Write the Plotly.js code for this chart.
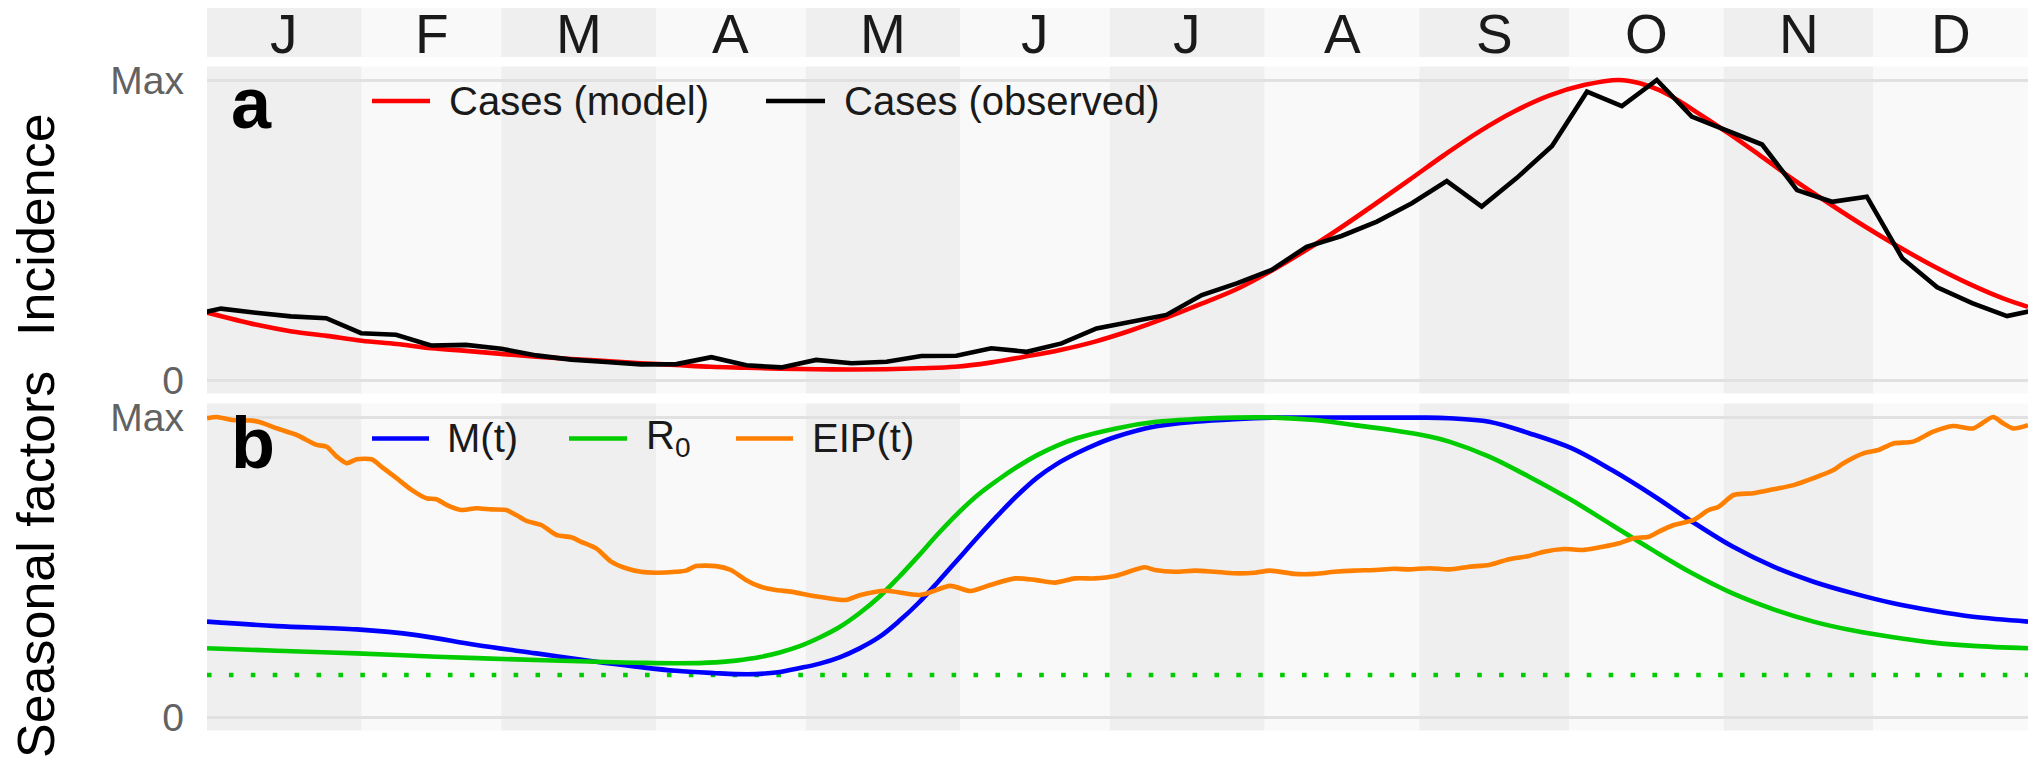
<!DOCTYPE html>
<html>
<head>
<meta charset="utf-8">
<script src="https://cdn.plot.ly/plotly-3.0.1.min.js"></script>
<style>
html,body{margin:0;padding:0;background:#ffffff;}
#chart{width:2043px;height:759px;}
</style>
</head>
<body>
<div id="chart"></div>
<script>
// ---------------- DATA ----------------
const monthLabels = ['J','F','M','A','M','J','J','A','S','O','N','D'];
const monthStarts = [0,31,59,90,120,151,181,212,243,273,304,334,365];
const yTickVals = [0, 1];
const yTickText = ['0', 'Max'];

// Panel a: observed weekly cases (normalised), day of year
const obsDays = [-4.2,2.8,9.8,16.8,23.9,30.9,37.9,44.9,51.9,59.0,66.0,73.0,80.0,87.0,94.1,101.1,108.1,115.1,122.1,129.2,136.2,143.2,150.2,157.2,164.3,171.3,178.3,185.3,192.3,199.4,206.4,213.4,220.4,227.4,234.5,241.5,248.5,255.5,262.5,269.6,276.6,283.6,290.6,297.6,304.7,311.7,318.7,325.7,332.7,339.8,346.8,353.8,360.8,367.8];
const obsCases = [0.213,0.238,0.224,0.212,0.206,0.156,0.151,0.115,0.117,0.104,0.082,0.068,0.060,0.052,0.053,0.076,0.049,0.042,0.067,0.056,0.061,0.080,0.081,0.106,0.094,0.122,0.172,0.194,0.217,0.283,0.322,0.367,0.444,0.480,0.528,0.589,0.663,0.578,0.673,0.780,0.961,0.913,1.000,0.878,0.833,0.785,0.633,0.594,0.611,0.406,0.309,0.256,0.213,0.238];

// Panel a: model cases
const modelDays = [0,10,17,24,31,38,45,52,59,66,73,80,87,94,101,108,115,122,129,136,143,150,157,164,171,178,185,192,199,206,213,220,227,234,241,248,255,262,269,276,283,287,291,295,299,305,311,318,325,332,339,346,353,360,365];
const modelCases = [0.225,0.184,0.162,0.147,0.131,0.120,0.106,0.097,0.087,0.078,0.070,0.063,0.056,0.050,0.044,0.041,0.038,0.036,0.035,0.036,0.039,0.044,0.058,0.078,0.100,0.128,0.164,0.206,0.252,0.300,0.361,0.430,0.505,0.585,0.667,0.750,0.828,0.895,0.948,0.983,1.000,0.990,0.967,0.931,0.888,0.822,0.752,0.668,0.590,0.515,0.445,0.380,0.322,0.272,0.244];

// Panel b: M(t)
const mDays = [0,14,30,42,54,66,78,86,94,102,106,110,114.5,118.8,122.8,126.8,130.7,134.7,138.6,142.6,146.5,150.5,154.5,158.5,162.5,166.4,170.3,174.3,178.2,182.2,190,198,206,214,230,243,249,257,265,273.5,281.6,289.7,297.7,305.8,314,322,330,338,346,354,365];
const mValues = [0.318,0.303,0.292,0.273,0.240,0.212,0.184,0.168,0.154,0.146,0.143,0.143,0.149,0.163,0.178,0.199,0.228,0.266,0.318,0.380,0.450,0.525,0.600,0.672,0.740,0.798,0.843,0.879,0.909,0.934,0.968,0.984,0.993,0.998,0.998,0.998,0.996,0.984,0.946,0.896,0.823,0.740,0.651,0.568,0.501,0.451,0.412,0.379,0.354,0.334,0.318];

// Panel b: R0
const r0Days = [0,14,30,46,62,78,86,94,102,106,110.9,114.8,118.8,122.8,126.8,130.7,134.7,138.6,142.6,146.5,150.5,154.5,158.5,162.5,166.4,170.3,174.3,182.2,190.2,198,206,214,222,230,238,245,249,257,265,273.5,281.6,289.7,297.7,305.8,314,322,330,338,346,354,365];
const r0Values = [0.229,0.221,0.212,0.201,0.192,0.184,0.181,0.179,0.182,0.188,0.200,0.215,0.236,0.265,0.300,0.345,0.400,0.465,0.537,0.610,0.679,0.740,0.790,0.835,0.873,0.904,0.929,0.962,0.984,0.993,0.998,0.998,0.990,0.973,0.955,0.935,0.918,0.868,0.801,0.723,0.640,0.557,0.479,0.412,0.359,0.318,0.288,0.266,0.248,0.237,0.229];
const r0Threshold = 0.14;

// Panel b: EIP(t)
const eipDays = [0,2,5,9,11,14,18,22,24,26,28,30,33,35,38,41,44,46,48,51,54,57,60,62,64,67,70,73,75,78,81,84,87,90,94,96,98,102,105,108,111,114,117,121,123,128,131,136,143,149,153,157,162,166,170,174,178,182,188,190,194,198,202,206,210,213,218,222,226,230,234,238,241,245,249,253,257,261,265,268,272,276,280,283,286,289,291,294,298,301,303,306,310,314,318,322,326,328,332,335,338,342,346,350,354,358,360,362,365];
const eipValues = [0.996,1.000,0.990,0.988,0.981,0.962,0.940,0.907,0.901,0.868,0.846,0.859,0.859,0.834,0.796,0.757,0.729,0.726,0.707,0.690,0.696,0.692,0.690,0.673,0.654,0.640,0.607,0.599,0.584,0.562,0.518,0.496,0.484,0.481,0.484,0.488,0.503,0.503,0.490,0.457,0.434,0.423,0.418,0.405,0.400,0.390,0.407,0.421,0.407,0.437,0.420,0.440,0.462,0.457,0.448,0.462,0.462,0.470,0.499,0.490,0.484,0.488,0.484,0.479,0.481,0.488,0.477,0.477,0.484,0.488,0.490,0.494,0.492,0.496,0.492,0.501,0.507,0.526,0.537,0.551,0.560,0.557,0.568,0.579,0.596,0.601,0.618,0.640,0.657,0.690,0.701,0.740,0.746,0.759,0.773,0.796,0.823,0.846,0.879,0.890,0.912,0.918,0.951,0.970,0.962,1.000,0.979,0.962,0.973];

// ---------------- LAYOUT GEOMETRY (pixels) ----------------
const W = 2043, H = 759, ML = 207, MR = 15;
const PW = W - ML - MR;
const fx = px => (px - ML) / PW;
const fy = py => (H - py) / H;
const FONT = 'Liberation Sans, Arial, Helvetica, sans-serif';
const bandDark = '#efefef', bandLight = '#f9f9f9';

const panelA = {top: 66.5, bottom: 393.5};
const panelB = {top: 403.5, bottom: 730.5};
const header = {top: 8, bottom: 57};

// ---------------- TRACES ----------------
const lw = 4.6;
const traces = [
  {x: modelDays, y: modelCases, type: 'scatter', mode: 'lines', name: 'Cases (model)',
   line: {color: '#ff0000', width: lw, shape: 'spline', smoothing: 1}, xaxis: 'x', yaxis: 'y', showlegend: false, hoverinfo: 'skip'},
  {x: obsDays, y: obsCases, type: 'scatter', mode: 'lines', name: 'Cases (observed)',
   line: {color: '#000000', width: lw}, xaxis: 'x', yaxis: 'y', showlegend: false, hoverinfo: 'skip'},
  {x: [monthStarts[0], monthStarts[12]], y: [r0Threshold, r0Threshold], type: 'scatter', mode: 'lines', name: 'threshold',
   line: {color: '#00cc00', width: 4.6, dash: '4.6px,17.3px'}, xaxis: 'x', yaxis: 'y2', showlegend: false, hoverinfo: 'skip'},
  {x: mDays, y: mValues, type: 'scatter', mode: 'lines', name: 'M(t)',
   line: {color: '#0000ff', width: lw, shape: 'spline', smoothing: 1}, xaxis: 'x', yaxis: 'y2', showlegend: false, hoverinfo: 'skip'},
  {x: r0Days, y: r0Values, type: 'scatter', mode: 'lines', name: 'R0',
   line: {color: '#00cc00', width: lw, shape: 'spline', smoothing: 1}, xaxis: 'x', yaxis: 'y2', showlegend: false, hoverinfo: 'skip'},
  {x: eipDays, y: eipValues, type: 'scatter', mode: 'lines', name: 'EIP(t)',
   line: {color: '#ff7f00', width: lw, shape: 'spline', smoothing: 0.7}, xaxis: 'x', yaxis: 'y2', showlegend: false, hoverinfo: 'skip'}
];

// ---------------- SHAPES ----------------
const shapes = [];
for (let i = 0; i < monthLabels.length; i++) {
  const fill = (i % 2 === 0) ? bandDark : bandLight;
  const x0 = monthStarts[i], x1 = monthStarts[i + 1];
  shapes.push({type: 'rect', xref: 'x', yref: 'paper', x0: x0, x1: x1, y0: fy(header.bottom), y1: fy(header.top),
               fillcolor: fill, line: {width: 0}, layer: 'below'});
  shapes.push({type: 'rect', xref: 'x', yref: 'y domain', x0: x0, x1: x1, y0: 0, y1: 1,
               fillcolor: fill, line: {width: 0}, layer: 'below'});
  shapes.push({type: 'rect', xref: 'x', yref: 'y2 domain', x0: x0, x1: x1, y0: 0, y1: 1,
               fillcolor: fill, line: {width: 0}, layer: 'below'});
}

// legend keys
const legendA = [
  {name: 'Cases (model)', color: '#ff0000', k0: 372, k1: 430, tx: 448},
  {name: 'Cases (observed)', color: '#000000', k0: 766, k1: 825, tx: 843}
];
const legendB = [
  {name: 'M(t)', color: '#0000ff', k0: 372, k1: 429, tx: 446},
  {name: 'R<sub>0</sub>', color: '#00cc00', k0: 569, k1: 627, tx: 645},
  {name: 'EIP(t)', color: '#ff7f00', k0: 736, k1: 793, tx: 811}
];
const legendAy = 101, legendBy = 438.5;

const annotations = [];
function addLegend(items, ky) {
  items.forEach(it => {
    shapes.push({type: 'line', xref: 'paper', yref: 'paper', x0: fx(it.k0), x1: fx(it.k1), y0: fy(ky), y1: fy(ky),
                 line: {color: it.color, width: 4.6}, layer: 'above'});
    annotations.push({text: it.name, xref: 'paper', yref: 'paper', x: fx(it.tx), y: fy(ky), xanchor: 'left', yanchor: 'middle',
                      showarrow: false, font: {family: FONT, size: 40, color: '#1a1a1a'}, borderpad: 0});
  });
}
addLegend(legendA, legendAy);
addLegend(legendB, legendBy);

// month letters
for (let i = 0; i < monthLabels.length; i++) {
  annotations.push({text: monthLabels[i], xref: 'x', yref: 'paper', x: (monthStarts[i] + monthStarts[i + 1]) / 2,
                    y: fy(34), xanchor: 'center', yanchor: 'middle', showarrow: false, borderpad: 0,
                    font: {family: FONT, size: 55, color: '#1a1a1a'}});
}

// panel tags
annotations.push({text: '<b>a</b>', xref: 'paper', yref: 'paper', x: fx(230), y: fy(103), xanchor: 'left', yanchor: 'middle',
                  showarrow: false, borderpad: 0, font: {family: FONT, size: 72, color: '#000000'}});
annotations.push({text: '<b>b</b>', xref: 'paper', yref: 'paper', x: fx(230), y: fy(443), xanchor: 'left', yanchor: 'middle',
                  showarrow: false, borderpad: 0, font: {family: FONT, size: 72, color: '#000000'}});

// y titles
annotations.push({text: 'Incidence', xref: 'paper', yref: 'paper', x: fx(36), y: fy(225), textangle: -90,
                  xanchor: 'center', yanchor: 'middle', showarrow: false, borderpad: 0,
                  font: {family: FONT, size: 52, color: '#000000'}});
annotations.push({text: 'Seasonal factors', xref: 'paper', yref: 'paper', x: fx(36), y: fy(565), textangle: -90,
                  xanchor: 'center', yanchor: 'middle', showarrow: false, borderpad: 0,
                  font: {family: FONT, size: 52, color: '#000000'}});

const yaxisCommon = {
  range: [-0.045, 1.045], fixedrange: true,
  tickmode: 'array', tickvals: yTickVals, ticktext: yTickText,
  ticks: '', ticklabelstandoff: 22,
  tickfont: {family: FONT, size: 39, color: '#626262'},
  showgrid: true, gridcolor: '#e1e1e1', gridwidth: 3,
  zeroline: false, showline: false
};

const layout = {
  width: W, height: H,
  margin: {l: ML, r: MR, t: 0, b: 0, pad: 0},
  paper_bgcolor: '#ffffff', plot_bgcolor: '#ffffff',
  showlegend: false,
  xaxis: {range: [monthStarts[0], monthStarts[12]], showticklabels: false, showgrid: false, zeroline: false,
          showline: false, ticks: '', fixedrange: true, anchor: 'y2'},
  yaxis: Object.assign({}, yaxisCommon, {domain: [fy(panelA.bottom), fy(panelA.top)], anchor: 'x'}),
  yaxis2: Object.assign({}, yaxisCommon, {domain: [fy(panelB.bottom), fy(panelB.top)], anchor: 'x'}),
  shapes: shapes,
  annotations: annotations
};

Plotly.newPlot('chart', traces, layout, {displayModeBar: false, staticPlot: true});
</script>
</body>
</html>
